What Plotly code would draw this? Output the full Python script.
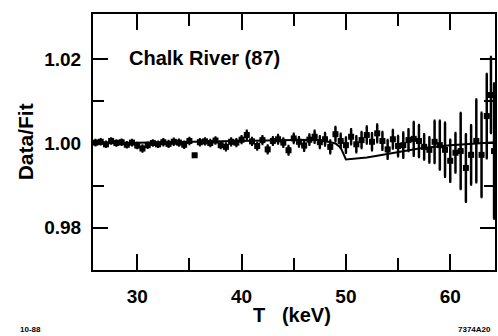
import plotly.graph_objects as go

# Data points: kinetic energy T (keV), Data/Fit ratio, and error
T = [26.0, 26.5, 27.0, 27.5, 28.0, 28.5, 29.0, 29.5, 30.0, 30.5,
     31.0, 31.5, 32.0, 32.5, 33.0, 33.5, 34.0, 34.5, 35.0, 35.5,
     36.0, 36.5, 37.0, 37.5, 38.0, 38.5, 39.0, 39.5, 40.0, 40.5,
     41.0, 41.5, 42.0, 42.5, 43.0, 43.5, 44.0, 44.5, 45.0, 45.5,
     46.0, 46.5, 47.0, 47.5, 48.0, 48.5, 49.0, 49.5, 50.0, 50.5,
     51.0, 51.5, 52.0, 52.5, 53.0, 53.5, 54.0, 54.5, 55.0, 55.5,
     56.0, 56.5, 57.0, 57.5, 58.0, 58.5, 59.0, 59.5, 60.0, 60.5,
     61.0, 61.5, 62.0, 62.5, 63.0, 63.5, 63.9, 64.2]
ratio = [1.0002, 1.0004, 0.9998, 1.0006, 1.0001, 1.0003, 0.9997, 1.0002, 0.9995, 0.9988,
         0.9996, 1.0001, 0.9998, 1.0003, 0.9999, 1.0004, 1.0002, 0.9997, 1.0006, 0.9972,
         1.0003, 1.0005, 1.0001, 1.0007, 0.9996, 0.9992, 1.0004, 1.0002, 1.0009, 1.0020,
         1.0005, 0.9994, 1.0008, 0.9986, 1.0006, 1.0010, 1.0002, 0.9984, 1.0012, 1.0004,
         0.9995, 1.0009, 1.0016, 1.0003, 1.0010, 0.9992, 1.0022, 1.0006, 0.9996, 1.0016,
         0.9998, 1.0008, 1.0020, 1.0004, 1.0024, 1.0006, 0.9986, 1.0010, 0.9994, 0.9996,
         1.0008, 1.0011, 1.0006, 0.9992, 0.9985, 1.0004, 0.9996, 0.9985, 0.9959, 0.9978,
         0.9982, 0.9942, 0.9973, 1.0006, 0.9973, 1.0065, 1.0115, 0.9982]
err = [0.0006, 0.0006, 0.0006, 0.0006, 0.0006, 0.0006, 0.0006, 0.0006, 0.0006, 0.0007,
       0.0006, 0.0006, 0.0006, 0.0007, 0.0007, 0.0007, 0.0007, 0.0007, 0.0007, 0.0003,
       0.0007, 0.0007, 0.0007, 0.0007, 0.0007, 0.0008, 0.0008, 0.0008, 0.0008, 0.0010,
       0.0008, 0.0008, 0.0009, 0.0009, 0.0009, 0.0010, 0.0010, 0.0010, 0.0011, 0.0011,
       0.0012, 0.0012, 0.0014, 0.0014, 0.0015, 0.0015, 0.0017, 0.0017, 0.0018, 0.0018,
       0.0019, 0.0019, 0.0020, 0.0020, 0.0021, 0.0021, 0.0022, 0.0022, 0.0024, 0.0030,
       0.0026, 0.0040, 0.0038, 0.0030, 0.0030, 0.0050, 0.0058, 0.0064, 0.0050, 0.0047,
       0.0090, 0.0080, 0.0070, 0.0098, 0.0100, 0.0100, 0.0090, 0.0160]
half_bin = 0.25

# Expected-shape curve
T_line = [25.8, 35.0, 40.0, 45.0, 47.0, 48.0, 49.0, 49.5, 50.0, 51.0,
          52.0, 53.0, 55.0, 57.0, 60.0, 62.0, 64.3]
r_line = [1.0000, 1.0003, 1.0006, 1.0008, 1.0009, 1.0006, 1.0000, 0.9990, 0.9962, 0.9964,
          0.9967, 0.9971, 0.9980, 0.9988, 0.9996, 1.0000, 1.0003]

x_ticks = [30, 40, 50, 60]
y_ticks = [0.98, 1.00, 1.02]
y_tick_text = ["0.98", "1.00", "1.02"]

FONT = "Liberation Sans, Arial, sans-serif"

fig = go.Figure()
fig.add_trace(go.Scatter(
    x=T_line, y=r_line, mode="lines",
    line=dict(color="black", width=2), showlegend=False, hoverinfo="skip"))
fig.add_trace(go.Scatter(
    x=T, y=ratio, mode="markers",
    marker=dict(color="black", size=6, symbol="square"),
    error_y=dict(type="data", array=err, visible=True, color="black",
                 thickness=2.5, width=1),
    error_x=dict(type="constant", value=half_bin, visible=True, color="black",
                 thickness=2, width=0),
    showlegend=False))

axis_common = dict(
    showline=True, linecolor="black", linewidth=2, mirror="ticks",
    ticks="inside", tickcolor="black", tickwidth=2,
    showgrid=False, zeroline=False,
    tickfont=dict(family=FONT, size=19, color="black", weight="bold"),
)

fig.update_xaxes(
    range=[25.76, 64.29], tickvals=x_ticks, ticklen=16,
    minor=dict(dtick=5, tick0=0, ticklen=12, ticks="inside", tickcolor="black", tickwidth=2),
    ticklabelstandoff=8, **axis_common)
fig.update_yaxes(
    range=[0.9700, 1.0307], tickvals=y_ticks, ticktext=y_tick_text, ticklen=15,
    minor=dict(tickvals=[0.99, 1.01], ticklen=11, ticks="inside", tickcolor="black", tickwidth=2),
    ticklabelstandoff=6, **axis_common)

W, H = 498, 336
l, r, t, b = 93, 1, 14, 66
pw, ph = W - l - r, H - t - b


def px2paper(px, py):
    return (px - l) / pw, 1 - (py - t) / ph


texts = [
    # text, px, py, size, angle, xanchor
    ("Chalk River (87)", 127, 58, 20, 0, "left"),
    ("Data/Fit", 25, 142, 21, -90, "center"),
    ("T\u00a0\u00a0\u00a0(keV)", 293, 315, 20, 0, "center"),
    ("10-88", 30, 329, 8, 0, "center"),
    ("7374A20", 476, 329, 8, 0, "center"),
]
ann = []
for txt, px, py, size, ang, xa in texts:
    x, y = px2paper(px, py)
    ann.append(dict(text=txt, x=x, y=y, xref="paper", yref="paper",
                    xanchor=xa, yanchor="middle", showarrow=False,
                    textangle=ang,
                    font=dict(size=size, family=FONT, color="black", weight="bold")))

fig.update_layout(
    width=W, height=H,
    margin=dict(l=l, r=r, t=t, b=b),
    paper_bgcolor="white", plot_bgcolor="white",
    font=dict(family=FONT, color="black"),
    annotations=ann,
)

fig.write_html("out.html", config={"displayModeBar": False},
               post_script="document.body.style.margin='0px';document.body.style.padding='0px';")
